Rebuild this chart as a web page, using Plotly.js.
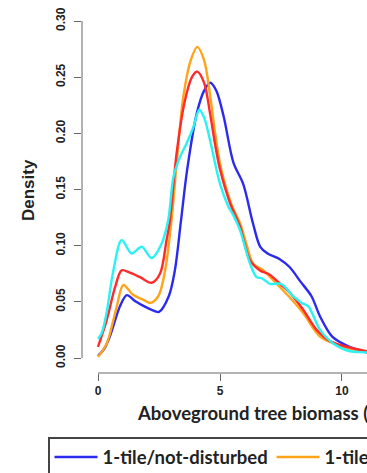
<!DOCTYPE html>
<html>
<head>
<meta charset="utf-8">
<script src="https://cdn.plot.ly/plotly-3.0.1.min.js"></script>
<style>
  html, body { margin: 0; padding: 0; background: #ffffff; overflow: hidden; width: 367px; height: 473px; }
  #chart { width: 900px; height: 473px; }
</style>
</head>
<body>
<div id="chart"></div>
<script>
// Series names
const seriesNames = ["1-tile/not-disturbed", "1-tile/disturbed", "4-tiles/not-disturbed", "4-tiles/disturbed"];

// Blue: 1-tile/not-disturbed
const blueX = [0.0, 0.25, 0.5, 0.9, 1.18, 1.5, 1.9, 2.3, 2.5, 2.9, 3.15, 3.4, 3.65, 4.05, 4.35, 4.6, 4.85, 5.15, 5.55, 5.95, 6.35, 6.65, 6.95, 7.45, 7.85, 8.3, 8.75, 9.1, 9.6, 10.2, 10.7, 11.2, 12.0, 13.0];
const blueY = [0.002, 0.008, 0.020, 0.046, 0.056, 0.051, 0.046, 0.042, 0.041, 0.055, 0.078, 0.122, 0.167, 0.218, 0.238, 0.245, 0.238, 0.215, 0.174, 0.155, 0.120, 0.099, 0.093, 0.088, 0.081, 0.068, 0.055, 0.037, 0.019, 0.011, 0.007, 0.004, 0.002, 0.001];

// Orange: 1-tile/disturbed
const orangeX = [0.0, 0.36, 0.77, 1.04, 1.45, 1.85, 2.13, 2.47, 2.75, 3.0, 3.25, 3.5, 3.8, 4.07, 4.35, 4.6, 4.8, 5.0, 5.27, 5.5, 5.82, 6.1, 6.36, 6.78, 7.1, 7.46, 7.9, 8.41, 9.1, 9.78, 10.4, 11.0, 12.0, 13.0];
const orangeY = [0.001, 0.013, 0.046, 0.065, 0.056, 0.052, 0.049, 0.055, 0.078, 0.120, 0.180, 0.233, 0.265, 0.277, 0.265, 0.233, 0.200, 0.173, 0.150, 0.135, 0.120, 0.100, 0.084, 0.078, 0.071, 0.063, 0.053, 0.040, 0.019, 0.012, 0.008, 0.006, 0.002, 0.001];

// Red: 4-tiles/not-disturbed
const redX = [0.0, 0.36, 0.7, 0.97, 1.3, 1.72, 2.2, 2.54, 2.81, 2.95, 3.22, 3.55, 3.85, 4.07, 4.35, 4.59, 4.8, 5.0, 5.41, 5.82, 6.23, 6.64, 7.05, 7.46, 7.87, 8.41, 8.96, 9.51, 10.19, 11.0, 12.0, 13.0];
const redY = [0.010, 0.034, 0.063, 0.078, 0.076, 0.072, 0.067, 0.075, 0.105, 0.123, 0.182, 0.228, 0.250, 0.255, 0.245, 0.218, 0.190, 0.168, 0.138, 0.117, 0.087, 0.078, 0.074, 0.066, 0.058, 0.043, 0.025, 0.015, 0.010, 0.006, 0.002, 0.001];

// Cyan: 4-tiles/disturbed
const cyanX = [0.0, 0.15, 0.35, 0.63, 0.97, 1.38, 1.79, 2.2, 2.61, 2.88, 3.09, 3.36, 3.63, 3.9, 4.15, 4.35, 4.59, 5.0, 5.34, 5.55, 5.82, 6.23, 6.5, 6.71, 7.05, 7.5, 8.0, 8.35, 8.62, 9.1, 9.64, 10.33, 11.0, 12.0, 13.0];
const cyanY = [0.017, 0.022, 0.040, 0.078, 0.105, 0.093, 0.099, 0.089, 0.102, 0.123, 0.161, 0.179, 0.191, 0.205, 0.221, 0.214, 0.194, 0.155, 0.135, 0.127, 0.114, 0.084, 0.072, 0.071, 0.066, 0.066, 0.055, 0.049, 0.046, 0.025, 0.013, 0.006, 0.005, 0.002, 0.001];

// Axis ticks
const xTickVals = [0, 5, 10, 15];
const xTickText = ["0", "5", "10", "15"];
const yTickVals = [0, 0.05, 0.10, 0.15, 0.20, 0.25, 0.30];
const yTickText = ["0.00", "0.05", "0.10", "0.15", "0.20", "0.25", "0.30"];

const xTitle = "Aboveground tree biomass (Mg/ha)";
const yTitle = "Density";

const colors = ["#2b2bf0", "#ffa31a", "#ff2a2a", "#2af2f2"];

function mk(x, y, i) {
  return {
    x: x, y: y, name: seriesNames[i], type: "scatter", mode: "lines",
    line: { color: colors[i], width: 2.4, shape: "spline", smoothing: 0.9 },
    hoverinfo: "skip"
  };
}

const data = [
  mk(blueX, blueY, 0),
  mk(orangeX, orangeY, 1),
  mk(redX, redY, 2),
  mk(cyanX, cyanY, 3)
];

const tickFont = { family: "Liberation Sans, Arial, sans-serif", size: 12, color: "#222", weight: "bold" };

const W = 900;
const plotW = 422;
const plotH = 366;
const legItemW = 43;
const legStep = 222;

const layout = {
  width: W, height: 473,
  margin: { l: 82, r: W - 82 - plotW, t: 7, b: 100, autoexpand: false },
  paper_bgcolor: "#ffffff", plot_bgcolor: "#ffffff",
  showlegend: true,
  xaxis: {
    range: [-0.656, 16.64], showgrid: false, zeroline: false, showline: false,
    tickmode: "array", tickvals: xTickVals, ticktext: xTickText,
    ticks: "outside", ticklen: 7, tickwidth: 1, tickcolor: "#666",
    tickfont: tickFont, fixedrange: true
  },
  yaxis: {
    range: [-0.01335, 0.3125], showgrid: false, zeroline: false, showline: false,
    tickmode: "array", tickvals: yTickVals, ticktext: yTickText,
    ticks: "outside", ticklen: 7, tickwidth: 1, tickcolor: "#666",
    tickangle: -90, tickfont: tickFont, ticklabelstandoff: 4, fixedrange: true
  },
  shapes: [
    { type: "line", xref: "x", yref: "paper", x0: xTickVals[0], x1: xTickVals[xTickVals.length - 1], y0: 0, y1: 0, line: { color: "#666", width: 1 } },
    { type: "line", xref: "paper", yref: "y", x0: 0, x1: 0, y0: yTickVals[0], y1: yTickVals[yTickVals.length - 1], line: { color: "#666", width: 1 } }
  ],
  annotations: [
    { text: xTitle, xref: "paper", yref: "paper", x: 53 / plotW, y: -0.109, xanchor: "left", yanchor: "middle", showarrow: false,
      font: { family: "Lato, sans-serif", size: 18.5, color: "#222", weight: "bold" } },
    { text: yTitle, xref: "paper", yref: "paper", x: -54 / plotW, y: 0.5, xanchor: "center", yanchor: "middle", textangle: -90, showarrow: false,
      font: { family: "Liberation Sans, Arial, sans-serif", size: 17, color: "#222", weight: "bold" } }
  ],
  legend: {
    orientation: "h", x: -34 / plotW, y: -64 / plotH, xanchor: "left", yanchor: "top",
    bordercolor: "#444", borderwidth: 1.5, bgcolor: "#ffffff",
    itemwidth: legItemW,
    entrywidth: legStep - (legItemW + 10) - 5, entrywidthmode: "pixels",
    font: { family: "Lato, sans-serif", size: 18.5, color: "#222", weight: "bold" },
    traceorder: "normal"
  }
};

Plotly.newPlot("chart", data, layout, { displayModeBar: false, staticPlot: true });
</script>
</body>
</html>
